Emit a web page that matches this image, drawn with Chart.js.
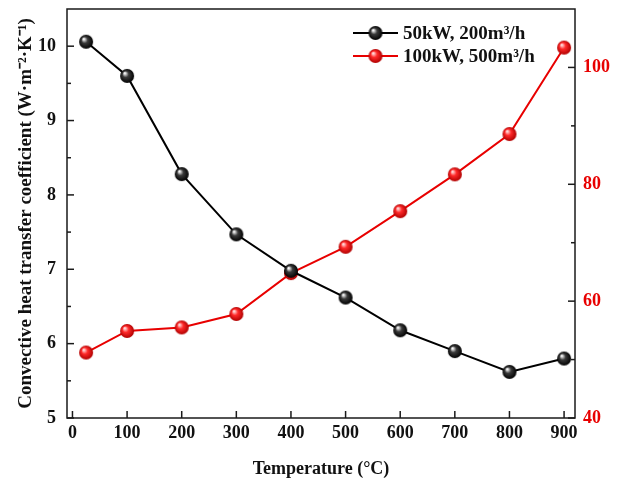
<!DOCTYPE html>
<html>
<head>
<meta charset="utf-8">
<script src="https://cdn.jsdelivr.net/npm/chart.js@4.4.1/dist/chart.umd.min.js"></script>
<style>
  html, body { margin: 0; padding: 0; background: #fff; }
  #wrap { width: 621px; height: 486px; }
</style>
</head>
<body>
<div id="wrap"><canvas id="chart"></canvas></div>
<script>
// Data
const temps = [25, 100, 200, 300, 400, 500, 600, 700, 800, 900];
const coef50kW = [10.06, 9.6, 8.28, 7.47, 6.98, 6.62, 6.18, 5.9, 5.62, 5.8];
const coef100kW = [51.2, 54.9, 55.5, 57.8, 64.8, 69.3, 75.4, 81.7, 88.6, 103.4];
const xTicks = [0, 100, 200, 300, 400, 500, 600, 700, 800, 900];
const leftTicks = [5, 6, 7, 8, 9, 10];
const rightTicks = [40, 60, 80, 100];
const seriesLabels = ["50kW, 200m\u00B3/h", "100kW, 500m\u00B3/h"];

const RED = "#e80000";
const FONT = "'Liberation Serif', 'Times New Roman', serif";

// shaded ball marker
function sphere(light, base, dark, r) {
  const c = document.createElement("canvas");
  const s = r * 2 + 2;
  c.width = s; c.height = s;
  const g = c.getContext("2d");
  const cx = s / 2, cy = s / 2;
  const grad = g.createRadialGradient(cx - r * 0.35, cy - r * 0.4, r * 0.08, cx, cy, r);
  grad.addColorStop(0, light);
  grad.addColorStop(0.4, base);
  grad.addColorStop(1, dark);
  g.fillStyle = grad;
  g.beginPath();
  g.arc(cx, cy, r, 0, Math.PI * 2);
  g.fill();
  return c;
}
const blackBall = sphere("#ffffff", "#3a3a3a", "#000000", 7);
const redBall = sphere("#ffe0e0", "#ff2a2a", "#b00000", 7);

const toPoints = (ys) => temps.map((t, i) => ({ x: t, y: ys[i] }));

const mids = (arr) => arr.slice(0, -1).map((v, i) => (v + arr[i + 1]) / 2);

// no extra label padding around the plot
const noPad = (s) => {
  s.paddingTop = 0; s.paddingBottom = 0; s.paddingLeft = 0; s.paddingRight = 0;
};

// frame, inward ticks and legend
const framePlugin = {
  id: "framePlugin",
  afterDraw(chart) {
    const { ctx, chartArea: a, scales } = chart;
    ctx.save();
    ctx.strokeStyle = "#1a1a1a";
    ctx.lineWidth = 1.5;
    ctx.strokeRect(a.left, a.top, a.right - a.left, a.bottom - a.top);

    const tick = (x0, y0, x1, y1) => {
      ctx.beginPath(); ctx.moveTo(x0, y0); ctx.lineTo(x1, y1); ctx.stroke();
    };
    xTicks.forEach((v) => {
      const x = scales.x.getPixelForValue(v);
      tick(x, a.bottom, x, a.bottom - 7);
    });
    leftTicks.forEach((v) => {
      const y = scales.y.getPixelForValue(v);
      tick(a.left, y, a.left + 7, y);
    });
    mids(leftTicks).forEach((v) => {
      const y = scales.y.getPixelForValue(v);
      tick(a.left, y, a.left + 4, y);
    });
    rightTicks.forEach((v) => {
      const y = scales.y1.getPixelForValue(v);
      tick(a.right, y, a.right - 7, y);
    });
    mids(rightTicks).forEach((v) => {
      const y = scales.y1.getPixelForValue(v);
      tick(a.right, y, a.right - 4, y);
    });

    // legend
    const colors = ["#000000", RED];
    const balls = [blackBall, redBall];
    const x0 = a.right - 222, x1 = a.right - 177;
    ctx.font = "bold 19px " + FONT;
    ctx.textBaseline = "middle";
    ctx.textAlign = "left";
    seriesLabels.forEach((lab, i) => {
      const y = a.top + 24 + i * 23;
      ctx.strokeStyle = colors[i];
      ctx.lineWidth = 2;
      tick(x0, y, x1, y);
      const b = balls[i];
      ctx.drawImage(b, (x0 + x1) / 2 - b.width / 2, y - b.height / 2);
      ctx.fillStyle = "#111";
      ctx.fillText(lab, x1 + 5, y + 1);
    });
    ctx.restore();
  },
};

const tickFont = { family: FONT, size: 18, weight: "bold" };

new Chart(document.getElementById("chart"), {
  type: "line",
  data: {
    datasets: [
      {
        label: seriesLabels[0],
        data: toPoints(coef50kW),
        yAxisID: "y",
        borderColor: "#000000",
        borderWidth: 2,
        pointStyle: blackBall,
        pointRadius: 7,
        tension: 0,
      },
      {
        label: seriesLabels[1],
        data: toPoints(coef100kW),
        yAxisID: "y1",
        borderColor: RED,
        borderWidth: 2,
        pointStyle: redBall,
        pointRadius: 7,
        tension: 0,
      },
    ],
  },
  options: {
    responsive: true,
    maintainAspectRatio: false,
    animation: false,
    layout: { padding: { top: 8, left: 0, right: 0, bottom: 0 } },
    plugins: {
      legend: { display: false },
      tooltip: { enabled: false },
    },
    scales: {
      x: {
        type: "linear",
        min: -10,
        max: 920,
        afterBuildTicks: (s) => { s.ticks = xTicks.map((v) => ({ value: v })); },
        afterFit: (s) => { s.height = 68; noPad(s); },
        grid: { display: false, drawTicks: false },
        border: { display: false },
        ticks: { font: tickFont, color: "#111", padding: 5, maxRotation: 0 },
        title: {
          display: true,
          text: "Temperature (\u00B0C)",
          font: { family: FONT, size: 18, weight: "bold" },
          color: "#111",
          padding: { top: 0, bottom: 6 },
        },
      },
      y: {
        position: "left",
        min: 5,
        max: 10.5,
        afterBuildTicks: (s) => { s.ticks = leftTicks.map((v) => ({ value: v })); },
        afterFit: (s) => { s.width = 67; noPad(s); },
        grid: { display: false, drawTicks: false },
        border: { display: false },
        ticks: { font: tickFont, color: "#111", padding: 11 },
        title: {
          display: true,
          text: "Convective heat transfer coefficient (W\u00B7m\u207B\u00B2\u00B7K\u207B\u00B9)",
          font: { family: FONT, size: 19, weight: "bold" },
          color: "#111",
          padding: { top: 15, bottom: 0 },
        },
      },
      y1: {
        position: "right",
        min: 40,
        max: 110,
        afterBuildTicks: (s) => { s.ticks = rightTicks.map((v) => ({ value: v })); },
        afterFit: (s) => { s.width = 46; noPad(s); },
        grid: { display: false, drawTicks: false },
        border: { display: false },
        ticks: { font: tickFont, color: RED, padding: 8 },
      },
    },
  },
  plugins: [framePlugin],
});
</script>
</body>
</html>
